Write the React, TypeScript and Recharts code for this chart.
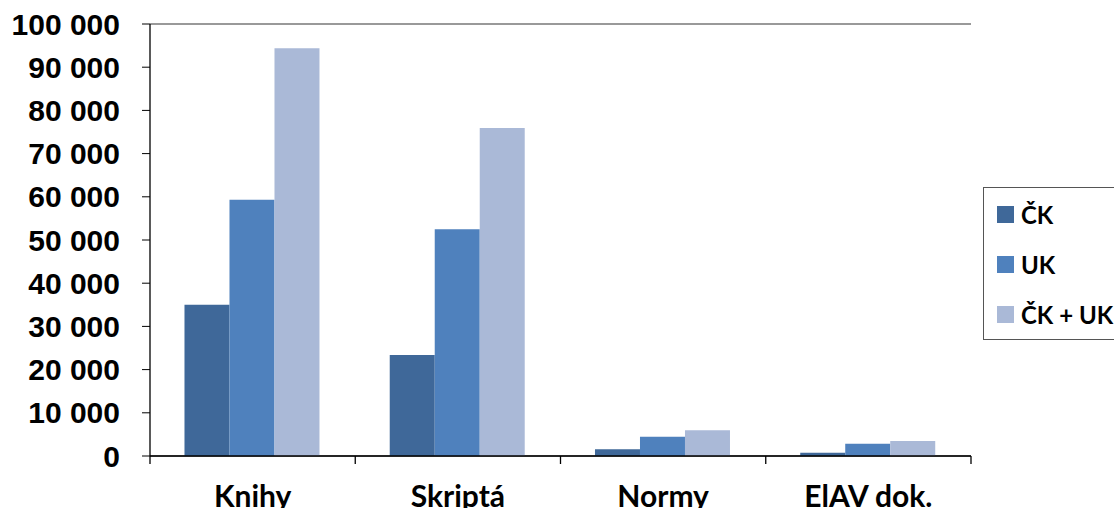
import React from "react";
import { BarChart, Bar, XAxis, YAxis, CartesianGrid, Legend, ReferenceLine } from "recharts";

const categories = ["Knihy", "Skriptá", "Normy", "ElAV dok."];
const ckValues = [35000, 23400, 1550, 770];
const ukValues = [59300, 52500, 4470, 2850];
const sumValues = [94400, 75900, 5950, 3470];
const yTicks = [0, 10000, 20000, 30000, 40000, 50000, 60000, 70000, 80000, 90000, 100000];

const seriesNames = ["ČK", "UK", "ČK + UK"];
const colors = ["#3F6899", "#4F81BD", "#AAB9D7"];

const data = categories.map((c, i) => ({
  name: c,
  ck: ckValues[i],
  uk: ukValues[i],
  sum: sumValues[i],
}));

const W = 1114;
const H = 508;
const PLOT_LEFT = 150;
const PLOT_RIGHT = 971;
const BAND = (PLOT_RIGHT - PLOT_LEFT) / categories.length;

const fmt = (v: number) => String(v).replace(/\B(?=(\d{3})+(?!\d))/g, " ");

const XTick = (props: any) => {
  const { x, y, payload, index } = props;
  const axisY = y;
  return (
    <g>
      <line x1={x - BAND / 2} x2={x - BAND / 2} y1={axisY} y2={axisY + 8} stroke="#000" strokeWidth={1.3} />
      {index === categories.length - 1 && (
        <line x1={x + BAND / 2} x2={x + BAND / 2} y1={axisY} y2={axisY + 8} stroke="#000" strokeWidth={1.3} />
      )}
      <text
        x={x}
        y={axisY + 51}
        textAnchor="middle"
        fontFamily="Lato, 'Open Sans', sans-serif"
        fontWeight={700}
        fontSize={30}
        fill="#000"
      >
        {payload.value}
      </text>
    </g>
  );
};

const LegendContent = () => (
  <div
    style={{
      position: "absolute",
      left: 983,
      top: 187,
      width: 140,
      height: 153,
      border: "1px solid #555",
      boxSizing: "border-box",
      background: "#fff",
    }}
  >
    {seriesNames.map((n, i) => (
      <div
        key={n}
        style={{
          position: "absolute",
          left: 13,
          top: 12 + i * 50,
          display: "flex",
          alignItems: "center",
          fontFamily: "Lato, 'Open Sans', sans-serif",
          fontWeight: 700,
          fontSize: 24,
          color: "#000",
          whiteSpace: "nowrap",
        }}
      >
        <span style={{ display: "inline-block", width: 17, height: 17, background: colors[i], marginRight: 7 }} />
        {n}
      </div>
    ))}
  </div>
);

export default function App() {
  return (
    <div style={{ position: "absolute", left: 0, top: 0, width: W, height: H, background: "#fff", overflow: "hidden" }}>
      <BarChart
        width={W}
        height={H}
        data={data}
        margin={{ top: 24, right: W - PLOT_RIGHT, bottom: 0, left: 0 }}
        barGap={0}
        barCategoryGap="16.8%"
      >
        <CartesianGrid vertical={false} stroke="#2a2a2a" strokeWidth={1} />
        <XAxis
          dataKey="name"
          height={52}
          axisLine={{ stroke: "#000", strokeWidth: 1.3 }}
          tickLine={false}
          tickSize={0}
          tickMargin={0}
          interval={0}
          tick={<XTick />}
        />
        <YAxis
          yAxisId="left"
          width={PLOT_LEFT}
          domain={[0, 100000]}
          ticks={yTicks}
          interval={0}
          tickFormatter={fmt}
          axisLine={{ stroke: "#000", strokeWidth: 1.3 }}
          tickLine={{ stroke: "#000", strokeWidth: 1 }}
          tickSize={8}
          tickMargin={22}
          tick={{ fontFamily: "'Liberation Sans', Arial, sans-serif", fontWeight: 700, fontSize: 30, fill: "#000" }}
        />
        <YAxis
          yAxisId="right"
          orientation="right"
          width={0}
          domain={[0, 100000]}
          tick={false}
          tickLine={false}
          axisLine={{ stroke: "#999", strokeWidth: 2 }}
        />
        <ReferenceLine yAxisId="left" y={100000} stroke="#999" strokeWidth={2} />
        <Legend content={<LegendContent />} wrapperStyle={{ position: "absolute", left: 0, top: 0, width: 0, height: 0 }} />
        <Bar yAxisId="left" dataKey="ck" name={seriesNames[0]} fill={colors[0]} isAnimationActive={false} />
        <Bar yAxisId="left" dataKey="uk" name={seriesNames[1]} fill={colors[1]} isAnimationActive={false} />
        <Bar yAxisId="left" dataKey="sum" name={seriesNames[2]} fill={colors[2]} isAnimationActive={false} />
      </BarChart>
    </div>
  );
}
